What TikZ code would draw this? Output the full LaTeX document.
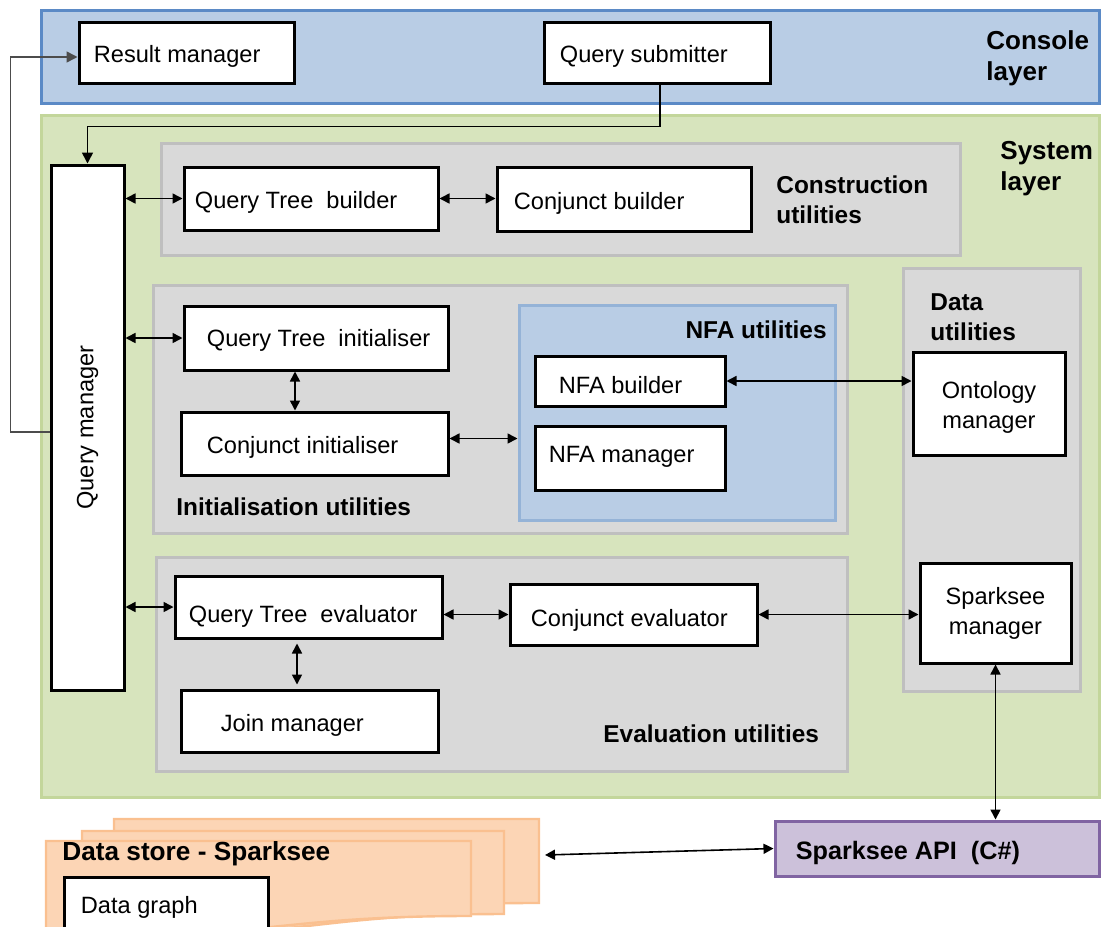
\documentclass[tikz,border=0pt]{standalone}
\usepackage{fontspec}
\setmainfont{Liberation Sans}
\usetikzlibrary{arrows.meta,fit,calc}
\definecolor{consfill}{HTML}{B9CDE5}
\definecolor{consline}{HTML}{5B8AC6}
\definecolor{sysfill}{HTML}{D7E4BD}
\definecolor{sysline}{HTML}{C3D69B}
\definecolor{grpfill}{HTML}{D9D9D9}
\definecolor{grpline}{HTML}{BFBFBF}
\definecolor{nfafill}{HTML}{B9CDE5}
\definecolor{nfaline}{HTML}{95B3D7}
\definecolor{apifill}{HTML}{CCC1DA}
\definecolor{apiline}{HTML}{8064A2}
\definecolor{dsfill}{HTML}{FCD5B5}
\definecolor{dsline}{HTML}{FAC090}

% one sheet of the data store stack: left, top, right, height
\newcommand\dstoresheet[4]{%
  \draw[draw=dsline, fill=dsfill, line width=1.2pt]
    (#1,#2) -- (#3,#2) -- (#3,{#2+0.802*#4})
    .. controls ({(#1+#3)/2},{#2+0.802*#4}) and ({(#1+#3)/2},{#2+1.107*#4}) ..
    (#1,{#2+0.934*#4}) -- cycle;}

\begin{document}
\begin{tikzpicture}[x=0.5pt,y=-0.5pt,
  comp/.style={draw=black, line width=1.5pt, fill=white, inner sep=0pt},
  layerbox/.style={line width=1.5pt, inner sep=0pt},
  grp/.style={draw=grpline, fill=grpfill, line width=1.5pt, inner sep=0pt},
  txt/.style={inner sep=0pt, font=\fontsize{11.8}{15}\selectfont},
  ltxt/.style={txt, anchor=west, yshift=-2pt},
  ttl/.style={inner sep=0pt, font=\fontsize{12.2}{15}\selectfont\bfseries, align=left},
  lyr/.style={inner sep=0pt, font=\fontsize{13}{15.5}\selectfont\bfseries, align=left},
  link/.style={draw=black, line width=0.8pt,
    {Triangle[length=5pt,width=5pt]}-{Triangle[length=5pt,width=5pt]}},
  feed/.style={draw=black, line width=0.8pt, -{Triangle[length=5.5pt,width=5.5pt]}},
]
\useasboundingbox (0,0) rectangle (1101,926);

% layers
\node[layerbox, draw=consline, fill=consfill, fit={(41,10)(1099,103)}] (console) {};
\node[layerbox, draw=sysline, fill=sysfill, fit={(41,115)(1099,797)}] (system) {};
\node[lyr, anchor=west] (consolet) at (986,58) {Console\\layer};
\node[lyr, anchor=west] (systemt) at (1000,169) {System\\layer};

% utility groups
\node[grp, fit={(161,143)(960,255)}] (constr) {};
\node[grp, fit={(153,285)(847,533)}] (initu) {};
\node[layerbox, draw=nfaline, fill=nfafill, fit={(519,305)(835,520)}] (nfau) {};
\node[grp, fit={(903,268)(1080,691)}] (datau) {};
\node[grp, fit={(156,557)(847,771)}] (evalu) {};

\node[ttl, anchor=west] (constrt) at (776,200) {Construction\\utilities};
\node[ttl, anchor=west] (initut) at (176,507) {Initialisation utilities};
\node[ttl, anchor=east] (nfaut) at (827,330) {NFA utilities};
\node[ttl, anchor=west] (dataut) at (930,317) {Data\\utilities};
\node[ttl, anchor=west] (evalut) at (603,734) {Evaluation utilities};

% console components
\node[comp, fit={(79,22)(294,83)}] (RM) {};
\node[ltxt] (RMt) at ([xshift=8pt]RM.west) {Result manager};
\node[comp, fit={(544,22)(770,83)}] (QS) {};
\node[ltxt] (QSt) at ([xshift=8.5pt]QS.west) {Query submitter};

% query manager
\node[comp, fit={(51,165)(124,690)}] (QM) {};
\node[txt, rotate=90] (QMt) at (QM.center) {Query manager};

% construction
\node[comp, fit={(184,167)(438,230)}] (QTB) {};
\node[ltxt] (QTBt) at ([xshift=6pt]QTB.west) {Query Tree~ builder};
\node[comp, fit={(497,167)(751,231)}] (CB) {};
\node[ltxt] (CBt) at ([xshift=9pt]CB.west) {Conjunct builder};

% initialisation
\node[comp, fit={(184,306)(448,370)}] (QTI) {};
\node[ltxt, yshift=1pt] (QTIt) at ([xshift=12pt]QTI.west) {Query Tree~ initialiser};
\node[comp, fit={(181,412)(448,475)}] (CI) {};
\node[ltxt] (CIt) at ([xshift=13.5pt]CI.west) {Conjunct initialiser};
\node[comp, fit={(535,356)(725,406)}] (NFAB) {};
\node[ltxt] (NFABt) at ([xshift=12.5pt]NFAB.west) {NFA builder};
\node[comp, fit={(535,426)(725,490)}] (NFAM) {};
\node[ltxt, yshift=2.5pt] (NFAMt) at ([xshift=7.5pt]NFAM.west) {NFA manager};

% data utilities
\node[comp, fit={(913,352)(1065,455)}] (OM) {};
\node[txt, align=center] (OMt) at ([yshift=-1.75pt]OM.center) {Ontology\\manager};
\node[comp, fit={(920,563)(1071,663)}] (SM) {};
\node[txt, align=center] (SMt) at (SM.center) {Sparksee\\manager};

% evaluation
\node[comp, fit={(175,576)(442,638)}] (QTE) {};
\node[ltxt, yshift=-2.5pt] (QTEt) at ([xshift=7.5pt]QTE.west) {Query Tree~ evaluator};
\node[comp, fit={(510,584)(757,645)}] (CE) {};
\node[ltxt, yshift=-1pt] (CEt) at ([xshift=11pt]CE.west) {Conjunct evaluator};
\node[comp, fit={(181,690)(438,752)}] (JM) {};
\node[ltxt] (JMt) at ([xshift=20.5pt]JM.west) {Join manager};

% Sparksee API
\node[layerbox, draw=apiline, fill=apifill, fit={(775,821)(1099,876)}] (API) {};
\node[ttl, anchor=west, font=\fontsize{12.6}{15}\selectfont\bfseries] (APIt)
  at ([xshift=11pt,yshift=-2pt]API.west) {Sparksee API~ (C\#)};

% data store stack
\dstoresheet{114}{819}{539}{104.7}
\dstoresheet{82}{831}{504}{103.5}
\dstoresheet{46}{841}{471}{93.5}
\node[ttl, anchor=west, font=\fontsize{13.1}{15}\selectfont\bfseries] (dst)
  at (62,854) {Data store - Sparksee};
\node[comp, fit={(64,877)(268,960)}] (DG) {};
\node[txt, anchor=west] (DGt) at ($(DG.north west)+(18,32)$) {Data graph};
\coordinate (dsr) at (545,855);

% connectors
\draw[feed] ($(QS.south)+(3,0)$) -- ++(0,42) -| (QM.north);
\coordinate (rmin) at ($(RM.west)+(0,4.5)$);
\draw[feed, draw=black!70] ($(QM.west)+(0,4.5)$) -- ++(-39,0) |- (rmin);

\draw[link] (QM.east |- QTB.west) -- (QTB.west);
\draw[link] (QTB.east) -- (CB.west |- QTB.east);

\draw[link] (QM.east |- QTI.west) -- (QTI.west);
\coordinate (qa) at ($(QTI.south)+(-21,0)$);
\draw[link] (qa) -- (qa |- CI.north);
\coordinate (cia) at ($(CI.east)+(0,-5)$);
\draw[link] (cia) -- (nfau.west |- cia);
\draw[link] (NFAB.east) -- (OM.west |- NFAB.east);

\draw[link] (QM.east |- QTE.west) -- (QTE.west);
\draw[link] (QTE.east |- CE.west) -- (CE.west);
\draw[link] (CE.east) -- (SM.west |- CE.east);
\coordinate (qe) at ($(QTE.south)+(-11.5,0)$);
\draw[link, shorten <=2pt, shorten >=2pt] (qe) -- (qe |- JM.north);

\draw[link] (SM.south) -- (SM.south |- API.north);
\draw[link] (dsr) -- (API.west);
\end{tikzpicture}
\end{document}
